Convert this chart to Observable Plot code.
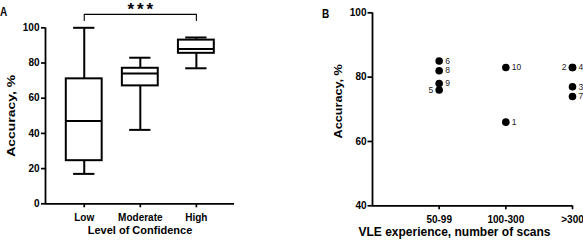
<!DOCTYPE html>
<html><head><meta charset="utf-8">
<script src="https://cdn.jsdelivr.net/npm/d3@7"></script>
<script src="https://cdn.jsdelivr.net/npm/@observablehq/plot@0.6"></script>
<style>
body{margin:0;background:#fff;}
#wrap{position:relative;width:583px;height:240px;font-family:"Liberation Sans",Arial,sans-serif;overflow:hidden;}
#a{position:absolute;left:0;top:0}
#b{position:absolute;left:290px;top:0}
.pl{position:absolute;font-weight:bold;font-size:10px;line-height:10px;color:#000;transform:scaleY(1.2);transform-origin:top left}
</style></head><body>
<div id="wrap">
  <div id="a"></div><div id="b"></div>
  <div class="pl" style="left:0px;top:5.5px">A</div>
  <div class="pl" style="left:322px;top:7.5px">B</div>
</div>
<script>
// ---- Panel A data (box summary per confidence level)
const confidence = ["Low", "Moderate", "High"];
const boxMin    = [17, 42, 77];
const boxQ1     = [24.5, 67, 85.5];
const boxMedian = [47, 74, 88];
const boxQ3     = [71, 77, 93];
const boxMax    = [100, 83, 94.5];
const accuracyTicksA = [0, 20, 40, 60, 80, 100];
const bracketGroups = ["Low", "High"];
const bracketLabel = "***";
const bracketTop = 107.6;
const bracketFoot = 104.2;
const bracketTextLevel = 110.5;

// ---- Panel B data (participants)
const experienceCategories = ["50-99", "100-300", ">300"];
const participantIds        = [6, 8, 9, 5, 10, 1, 2, 4, 3, 7];
const participantExperience = ["50-99", "50-99", "50-99", "50-99", "100-300", "100-300", ">300", ">300", ">300", ">300"];
const participantAccuracy   = [85, 82, 78, 76, 83, 66, 83, 83, 77, 74];
const participantLabelSide  = ["right", "right", "right", "left", "right", "right", "left", "right", "right", "right"];
const accuracyTicksB = [40, 60, 80, 100];

const FONT = "Liberation Sans, Arial, Helvetica, sans-serif";

// ---------- Panel A
const boxes = confidence.map((c, i) => ({
  c, i: i + 1, min: boxMin[i], q1: boxQ1[i], med: boxMedian[i], q3: boxQ3[i], max: boxMax[i]
}));
const boxHalf = 0.32, capHalf = 0.19;
const xA0 = 0.309;
const bx = bracketGroups.map(g => confidence.indexOf(g) + 1);
const bracketPath = [
  {x: bx[0], y: bracketFoot}, {x: bx[0], y: bracketTop},
  {x: bx[1], y: bracketTop}, {x: bx[1], y: bracketFoot}
];

const plotA = Plot.plot({
  width: 290, height: 240,
  marginLeft: 45, marginRight: 56, marginTop: 27.3, marginBottom: 36.7,
  style: {fontFamily: FONT, fontSize: "10px", fontWeight: "bold", color: "#000", background: "#fff", overflow: "visible"},
  x: {domain: [xA0, 3.68], axis: null},
  y: {domain: [0, 100], axis: null},
  marks: [
    Plot.axisY({ticks: accuracyTicksA, tickSize: 4, tickPadding: 2, strokeWidth: 1.7, label: null}),
    Plot.axisX({ticks: [1, 2, 3], tickFormat: d => confidence[d - 1], tickSize: 4, tickPadding: 6, strokeWidth: 1.7, label: null}),
    Plot.ruleX([xA0], {strokeWidth: 1.8}),
    Plot.ruleY([0], {strokeWidth: 1.8}),
    Plot.ruleX(boxes, {x: "i", y1: "q3", y2: "max", strokeWidth: 2}),
    Plot.ruleX(boxes, {x: "i", y1: "min", y2: "q1", strokeWidth: 2}),
    Plot.ruleY(boxes, {y: "max", x1: d => d.i - capHalf, x2: d => d.i + capHalf, strokeWidth: 2}),
    Plot.ruleY(boxes, {y: "min", x1: d => d.i - capHalf, x2: d => d.i + capHalf, strokeWidth: 2}),
    Plot.rect(boxes, {x1: d => d.i - boxHalf, x2: d => d.i + boxHalf, y1: "q1", y2: "q3", fill: "white", stroke: "black", strokeWidth: 2}),
    Plot.ruleY(boxes, {y: "med", x1: d => d.i - boxHalf, x2: d => d.i + boxHalf, strokeWidth: 2}),
    Plot.line(bracketPath, {x: "x", y: "y", stroke: "black", strokeWidth: 1.1}),
    Plot.text([bracketLabel], {x: (bx[0] + bx[1]) / 2, y: bracketTextLevel, text: d => d, fontSize: 17, fontWeight: "bold", className: "stars"}),
    Plot.text(["Accuracy, %"], {frameAnchor: "left", textAnchor: "middle", dx: -34, rotate: -90, fontSize: 11, fontWeight: "bold", className: "ytitleA"}),
    Plot.text(["Level of Confidence"], {frameAnchor: "bottom", textAnchor: "middle", dy: 29.7, fontSize: 11, fontWeight: "bold"})
  ]
});
document.getElementById("a").append(plotA);

// ---------- Panel B
const participants = participantIds.map((id, k) => ({
  id, x: experienceCategories.indexOf(participantExperience[k]) + 1,
  acc: participantAccuracy[k], side: participantLabelSide[k]
}));

const plotB = Plot.plot({
  width: 293, height: 240,
  marginLeft: 82, marginRight: 11, marginTop: 12.3, marginBottom: 34.7,
  style: {fontFamily: FONT, fontSize: "10px", fontWeight: "bold", color: "#000", background: "#fff", overflow: "visible"},
  x: {domain: [0, 3], axis: null},
  y: {domain: [40, 100], axis: null},
  marks: [
    Plot.axisY({ticks: accuracyTicksB, tickSize: 4.5, tickPadding: 1.5, strokeWidth: 1.7, label: null}),
    Plot.axisX({ticks: [1, 2, 3], tickFormat: d => experienceCategories[d - 1], tickSize: 4, tickPadding: 6, strokeWidth: 1.7, label: null}),
    Plot.ruleX([0], {strokeWidth: 1.8}),
    Plot.ruleY([40], {strokeWidth: 1.8}),
    Plot.dot(participants, {x: "x", y: "acc", r: 3.8, fill: "black", stroke: null}),
    Plot.text(participants.filter(d => d.side === "right"), {x: "x", y: "acc", text: d => String(d.id), textAnchor: "start", dx: 6, fontSize: 8.5, fontWeight: "normal", fill: "#222"}),
    Plot.text(participants.filter(d => d.side === "left"), {x: "x", y: "acc", text: d => String(d.id), textAnchor: "end", dx: -6, fontSize: 8.5, fontWeight: "normal", fill: "#222"}),
    Plot.text(["Accuracy, %"], {frameAnchor: "left", textAnchor: "middle", dx: -34, dy: -8, rotate: -90, fontSize: 11, fontWeight: "bold", className: "ytitleB"}),
    Plot.text(["VLE experience, number of scans"], {frameAnchor: "bottom", textAnchor: "middle", dx: -18, dy: 29.7, fontSize: 12, fontWeight: "bold"})
  ]
});
document.getElementById("b").append(plotB);

// stretch rotated titles (reference is vertically stretched)
function stretch(svg, cls, s) {
  d3.select(svg).selectAll("." + cls + " text").each(function () {
    const t = this.getAttribute("transform");
    if (t) this.setAttribute("transform", t + ` scale(${s},1)`);
  });
}
stretch(plotA, "ytitleA", 1.27);
stretch(plotB, "ytitleB", 1.15);
d3.select(plotA).selectAll(".stars text").style("letter-spacing", "3px").attr("dx", 1.5);
</script>
</body></html>
